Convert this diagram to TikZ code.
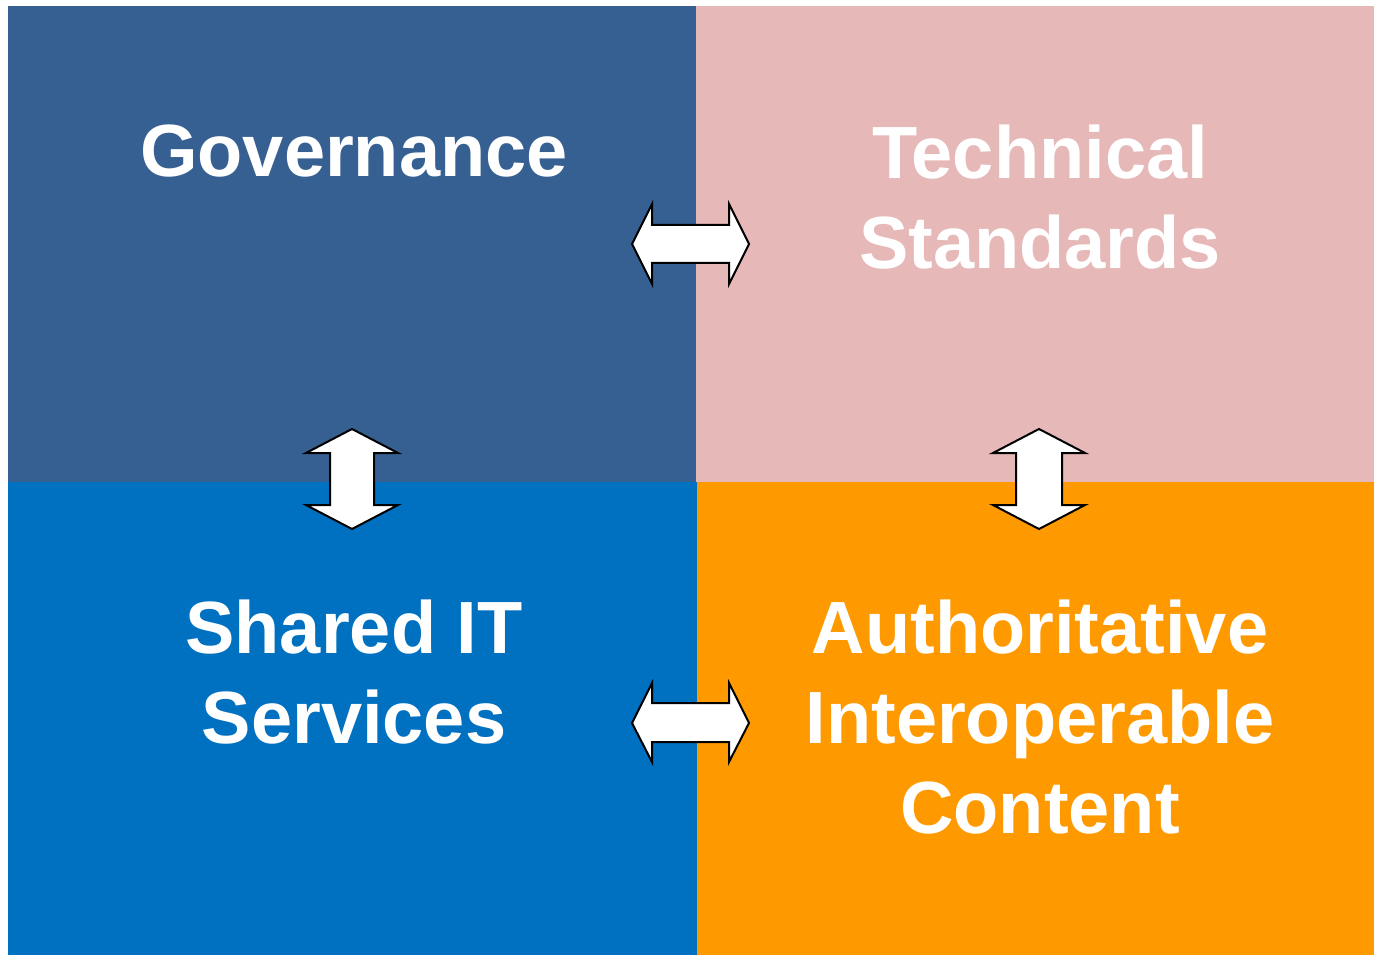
\documentclass[tikz,border=0pt]{standalone}
\usepackage{fontspec}
\setmainfont{Liberation Sans}

\definecolor{govblue}{RGB}{55,96,146}
\definecolor{techpink}{RGB}{230,184,183}
\definecolor{sharedblue}{RGB}{0,112,192}
\definecolor{contentorange}{RGB}{255,153,0}

\tikzset{
  quadlabel/.style={anchor=north,inner sep=0pt,align=center,text=white,
    font=\fontsize{55.5}{67.5}\selectfont\bfseries},
  blockarrow/.style={draw=black,fill=white,line width=1.5pt,line join=miter}
}

\begin{document}
\begin{tikzpicture}[x=0.75pt,y=0.75pt,yscale=-1,xscale=1]
\useasboundingbox (0,0) rectangle (1374,955);

%Rectangles
\fill [govblue] (8,6) rectangle (696,482);
\fill [techpink] (696,6) rectangle (1374,482);
\fill [sharedblue] (8,482) rectangle (697,955);
\fill [contentorange] (697,482) rectangle (1374,955);

%Shape: Left Right Arrow (top)
\draw [blockarrow] (632,244) -- (652,204) -- (652,225) -- (729,225) -- (729,204) -- (749,244) -- (729,284) -- (729,263) -- (652,263) -- (652,284) -- cycle ;
%Shape: Left Right Arrow (bottom)
\draw [blockarrow] (632,723) -- (652,683) -- (652,703) -- (729,703) -- (729,683) -- (749,723) -- (729,762) -- (729,742) -- (652,742) -- (652,762) -- cycle ;
%Shape: Up Down Arrow (left)
\draw [blockarrow] (352,429) -- (398,453) -- (374,453) -- (374,505) -- (398,505) -- (352,529) -- (306,505) -- (330,505) -- (330,453) -- (306,453) -- cycle ;
%Shape: Up Down Arrow (right)
\draw [blockarrow] (1039,429) -- (1085,453) -- (1062,453) -- (1062,505) -- (1085,505) -- (1039,529) -- (993,505) -- (1016,505) -- (1016,453) -- (993,453) -- cycle ;

%Labels
\node [quadlabel] (governance) at (354,125) {Governance};
\node [quadlabel] (standards) at (1040,125) {Technical\\Standards};
\node [quadlabel] (shared) at (354,600) {Shared IT\\Services};
\node [quadlabel] (content) at (1040,600) {Authoritative\\Interoperable\\Content};

\end{tikzpicture}
\end{document}
